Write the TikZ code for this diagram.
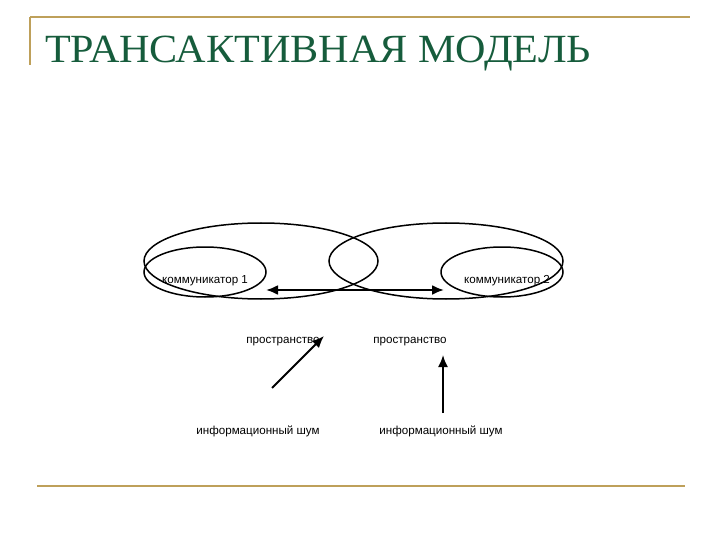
\documentclass[tikz,border=0pt]{standalone}
\usepackage{fontspec}
\setmainfont{Liberation Serif}
\newfontfamily\lblfont{Liberation Sans}
\usetikzlibrary{arrows, arrows.meta, calc}
\definecolor{titlegreen}{RGB}{22,92,60}
\definecolor{rulegold}{RGB}{190,160,90}
\tikzset{
  ring/.style={draw, line width=1.5pt},
  lbl/.style={font=\lblfont\fontsize{11.6}{13}\selectfont, inner sep=0pt},
  goldline/.style={draw=rulegold, line width=2.2pt},
  tip/.style={Latex[length=12pt,width=10pt]},
  arr/.style={-{Latex[length=12pt,width=10pt]}, line width=1.8pt}
}
\begin{document}
\begin{tikzpicture}[x=1pt, y=-1pt]
        \useasboundingbox (0,0) rectangle (720,540);

        \draw[goldline] (30,17) -- (690,17);
        \draw[goldline] (30,17) -- (30,65);
        \draw[goldline] (37,486) -- (685,486);

        \node[anchor=base west, inner sep=0pt, text=titlegreen,
              font=\fontsize{40}{44}\selectfont] (title) at (45,63) {\scalebox{1.054}[1]{ТРАНСАКТИВНАЯ МОДЕЛЬ}};

        \draw[ring] (261,261) ellipse (117 and 38);
        \draw[ring] (446,261) ellipse (117 and 38);
        \draw[ring] (205,272) ellipse (61 and 25);
        \draw[ring] (502,272) ellipse (61 and 25);

        \node[lbl] (kom1) at (205,281) {коммуникатор 1};
        \node[lbl] (kom2) at (507,281) {коммуникатор 2};

        \node[lbl] (sp1) at (283,342) {пространство};
        \node[lbl] (sp2) at (410,342) {пространство};

        \node[lbl] (noise1) at (258,431) {информационный шум};
        \node[lbl] (noise2) at (441,431) {информационный шум};

        \coordinate (left) at (266,290);
        \coordinate (right) at (444,290);
        \coordinate (n1) at (272,388);
        \coordinate (t1) at (324,336);
        \coordinate (n2) at (443,413);
        \coordinate (t2) at (443,355);

        \draw[{Latex[length=12pt,width=10pt]}-{Latex[length=12pt,width=10pt]}, line width=2.2pt] (left) -- (right);
        \draw[arr] (n1) -- (t1);
        \draw[arr] (n2) -- (t2);
    \end{tikzpicture}
\end{document}
